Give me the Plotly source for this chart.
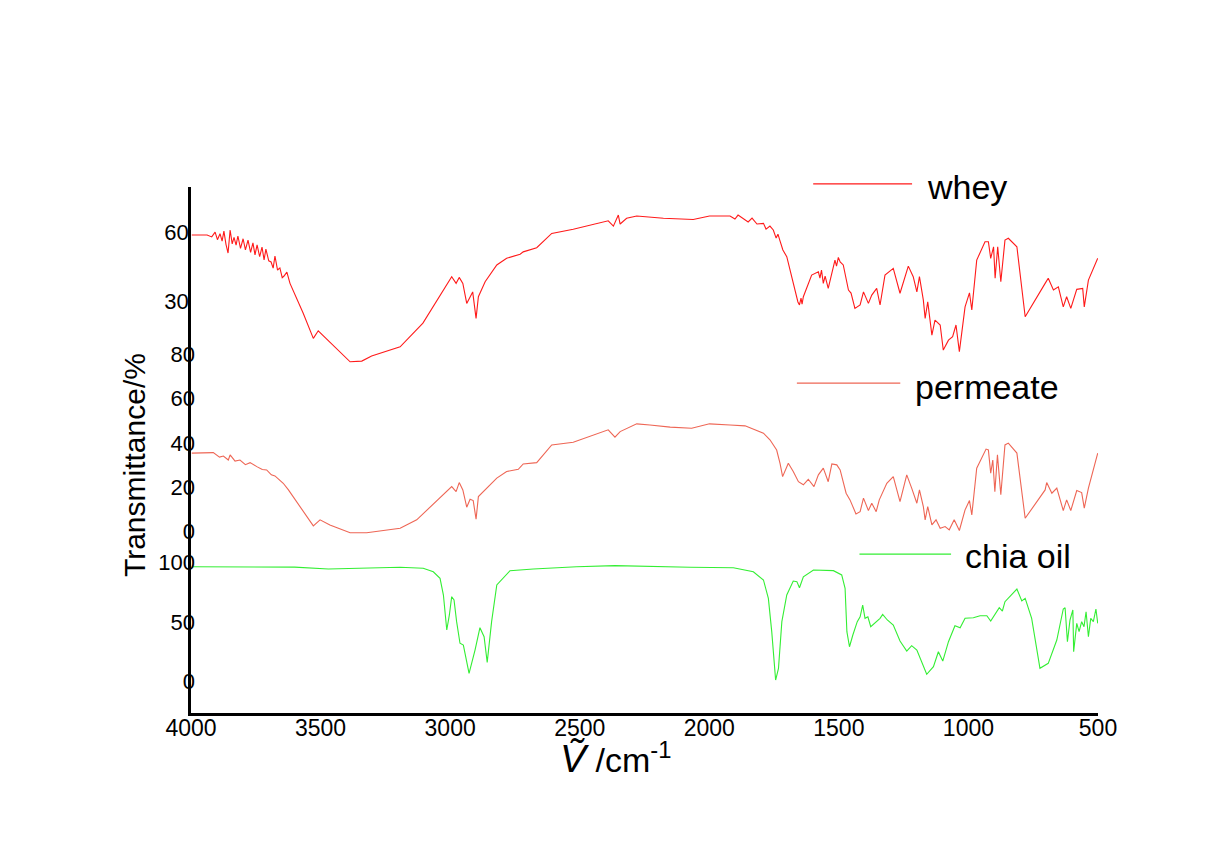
import plotly.graph_objects as go

# ---------------- data ----------------
whey_wn = [3997, 3938, 3920, 3907, 3898, 3888, 3880, 3873, 3865, 3857, 3849, 3841, 3834, 3826, 3819,
           3809, 3799, 3790, 3780, 3770, 3761, 3753, 3745, 3735, 3726, 3718, 3711, 3700,
           3691, 3683, 3676, 3666, 3657, 3648, 3641, 3630, 3618, 3567, 3528, 3509, 3386, 3341, 3303, 3193, 3105, 2994,
           2977, 2965, 2951, 2936, 2913, 2900, 2891, 2865, 2820, 2782, 2730, 2718, 2666, 2608, 2525,
           2390, 2370, 2351, 2344, 2319, 2280, 2177, 2062, 1999, 1920, 1901, 1889, 1869, 1850, 1835,
           1816, 1791, 1781, 1766, 1753, 1742, 1735, 1728, 1716, 1701, 1676, 1662, 1658, 1652, 1646,
           1642, 1637, 1605, 1579, 1573, 1567, 1560, 1553, 1541, 1521, 1515, 1509, 1502, 1495, 1483,
           1463, 1453, 1438, 1418, 1405, 1386, 1373, 1354, 1341, 1322, 1290, 1264, 1232, 1213, 1199,
           1189, 1174, 1167, 1157, 1141, 1129, 1109, 1097, 1077, 1061, 1048, 1035, 1013, 996, 987,
           968, 936, 923, 914, 903, 897, 887, 875, 859, 846, 813, 781, 704, 692, 672, 653, 634, 621,
           605, 582, 559, 553, 537, 501]
whey_t = [59.0, 59.0, 58.2, 60.3, 57.0, 59.6, 56.4, 60.7, 55.0, 51.2, 61.2, 55.2, 58.0, 54.6, 58.6,
          53.2, 57.4, 52.6, 56.8, 51.5, 55.6, 50.4, 54.7, 49.6, 53.8, 48.2, 52.9, 47.8,
          47.3, 44.6, 49.9, 43.8, 44.7, 40.5, 41.2, 42.9, 38.0, 25.0, 14.1, 17.4, 3.9, 4.2, 6.4, 10.4, 20.7, 40.9,
          38.0, 40.6, 38.0, 29.3, 34.3, 22.8, 32.2, 38.7, 46.0, 48.9, 50.7, 51.7, 53.5, 59.7, 61.5,
          65.2, 62.9, 67.7, 63.8, 66.3, 67.3, 66.3, 65.8, 67.3, 67.3, 66.0, 67.7, 66.3, 64.7, 66.4,
          63.8, 64.1, 61.6, 62.9, 61.2, 57.7, 59.4, 56.8, 52.5, 49.6, 38.0, 31.6, 29.9, 28.6, 31.6,
          29.0, 32.2, 41.6, 43.0, 40.3, 43.8, 38.0, 41.2, 35.8, 45.2, 48.1, 45.5, 49.3, 47.3, 46.0,
          35.1, 33.8, 27.1, 28.6, 34.3, 29.3, 32.9, 35.8, 28.6, 41.6, 44.5, 33.7, 45.5, 40.9, 34.3,
          40.9, 30.7, 22.8, 30.0, 15.5, 22.0, 19.9, 9.0, 13.3, 14.8, 19.9, 8.3, 27.8, 33.9, 26.4,
          48.1, 56.1, 56.1, 48.9, 53.9, 40.2, 53.9, 38.7, 56.8, 57.6, 53.9, 23.5, 38.0, 40.2, 35.1,
          36.5, 27.8, 32.2, 27.1, 35.4, 35.8, 27.8, 39.4, 48.9]

perm_wn = [3997, 3914, 3890, 3875, 3856, 3849, 3830, 3811, 3790, 3772, 3746, 3725, 3708, 3690, 3676, 3644, 3624, 3528, 3502, 3464,
           3386, 3322, 3193, 3129, 2994, 2977, 2965, 2951, 2936, 2923, 2911, 2900, 2891, 2859, 2820,
           2782, 2737, 2718, 2666, 2608, 2525, 2390, 2364, 2344, 2280, 2229, 2151, 2068, 1999, 1920,
           1862, 1791, 1766, 1740, 1727, 1717, 1695, 1676, 1656, 1637, 1618, 1596, 1579, 1560, 1541,
           1527, 1508, 1495, 1472, 1457, 1434, 1418, 1405, 1386, 1373, 1356, 1344, 1315, 1290, 1264,
           1238, 1219, 1199, 1189, 1174, 1167, 1157, 1141, 1125, 1109, 1090, 1074, 1055, 1035, 1013,
           996, 987, 968, 932, 923, 914, 906, 898, 888, 875, 859, 846, 813, 781, 704, 698, 678, 659,
           634, 621, 605, 582, 563, 553, 537, 501]
perm_t = [35.4, 35.6, 33.6, 34.1, 32.3, 34.6, 31.8, 32.3, 30.2, 31.1, 29.3, 28.0, 27.8, 25.6, 25.1, 21.8, 18.8, 2.6, 5.3, 3.0,
          -0.5, -0.5, 1.5, 5.3, 20.3, 18.0, 22.1, 18.8, 11.0, 14.6, 14.0, 5.6, 15.8, 19.6, 24.1,
          27.1, 28.1, 30.5, 31.1, 39.1, 40.3, 45.9, 42.6, 45.1, 48.6, 48.1, 47.1, 46.6, 48.6, 48.1,
          47.7, 44.4, 41.4, 36.8, 30.8, 24.8, 30.8, 27.1, 22.5, 21.1, 23.6, 20.3, 25.6, 28.6, 22.5,
          30.5, 30.1, 27.8, 17.3, 14.3, 8.0, 9.0, 15.1, 9.5, 12.8, 9.0, 14.3, 21.8, 24.8, 13.5,
          25.6, 19.6, 12.8, 18.8, 11.3, 5.3, 11.3, 3.0, 5.3, 1.5, 2.3, 0.8, 5.3, 0.5, 9.8,
          14.0, 7.5, 28.6, 37.2, 36.8, 26.3, 32.3, 18.0, 34.6, 16.6, 39.1, 39.9, 35.4, 6.0, 18.8, 22.1, 17.3, 19.6,
          9.5, 14.3, 9.5, 18.5, 17.6, 10.6, 19.6, 35.4]

chia_wn = [3997, 3600, 3470, 3193, 3104, 3065, 3039, 3026, 3013, 3003, 2994, 2985, 2975, 2962, 2949,
           2927, 2904, 2885, 2869, 2857, 2840, 2820, 2769, 2679, 2512, 2364, 2074, 1907, 1830, 1791,
           1772, 1759, 1744, 1733, 1720, 1701, 1676, 1662, 1652, 1637, 1598, 1573, 1521, 1489, 1476,
           1469, 1459, 1446, 1429, 1418, 1408, 1399, 1388, 1377, 1341, 1331, 1313, 1290, 1264, 1238,
           1219, 1199, 1161, 1135, 1116, 1099, 1077, 1052, 1032, 1013, 981, 955, 929, 914, 881, 869,
           859, 813, 794, 781, 756, 724, 692, 659, 634, 627, 618, 608, 597, 594, 582, 573, 563, 554,
           546, 537, 528, 518, 508, 501]
chia_t = [96.3, 96.0, 94.4, 95.8, 95.0, 92.1, 86.6, 72.6, 43.3, 55.9, 71.2, 68.4, 50.3, 32.2, 30.7,
          7.0, 26.5, 45.2, 37.7, 16.2, 50.3, 81.0, 93.0, 94.4, 96.3, 97.2, 95.8, 95.5, 92.1, 85.2,
          69.8, 41.9, 1.4, 11.2, 50.3, 72.6, 84.3, 83.8, 78.7, 87.9, 93.6, 93.6, 93.0, 89.4, 78.2,
          41.9, 29.3, 39.1, 50.3, 54.4, 64.2, 53.1, 54.4, 46.1, 53.1, 56.4, 51.7, 47.5, 34.1, 25.7,
          30.2, 26.5, 6.2, 12.6, 25.1, 17.3, 33.5, 46.9, 45.2, 53.1, 53.6, 55.3, 55.3, 50.8, 62.0, 59.2,
          67.0, 77.6, 67.6, 69.8, 53.1, 11.2, 15.4, 34.9, 60.9, 62.0, 33.5, 51.7, 60.1, 25.1, 48.9, 41.9, 50.3, 46.1,
          58.6, 37.7, 53.1, 50.3, 60.9, 48.9]

x_ticks = [4000, 3500, 3000, 2500, 2000, 1500, 1000, 500]
whey_ticks = [30, 60]
perm_ticks = [0, 20, 40, 60, 80]
chia_ticks = [0, 50, 100]
names = ["whey", "permeate", "chia oil"]
colors = ["#ff1a1a", "#ee6655", "#33ee33"]

FONT = "Arial, Liberation Sans, Helvetica, sans-serif"

fig = go.Figure()
fig.add_trace(go.Scatter(x=whey_wn, y=whey_t, mode="lines", name=names[0], yaxis="y",
                         line=dict(color=colors[0], width=1.1)))
fig.add_trace(go.Scatter(x=perm_wn, y=perm_t, mode="lines", name=names[1], yaxis="y2",
                         line=dict(color=colors[1], width=1.1)))
fig.add_trace(go.Scatter(x=chia_wn, y=chia_t, mode="lines", name=names[2], yaxis="y3",
                         line=dict(color=colors[2], width=1.1)))

ycommon = dict(showgrid=False, zeroline=False, ticks="", ticklabelstandoff=-5,
               tickfont=dict(size=22, color="black", family=FONT))

fig.update_layout(
    width=1200, height=842, autosize=False,
    paper_bgcolor="white", plot_bgcolor="white",
    margin=dict(l=183, r=110, t=179, b=137),
    showlegend=False,
    font=dict(family=FONT, color="black"),
    xaxis=dict(range=[4000, 500], tickvals=x_ticks, ticks="", showgrid=False, zeroline=False,
               showline=True, linecolor="black", linewidth=2.5, ticklabelstandoff=-7,
               tickfont=dict(size=23, color="black", family=FONT)),
    yaxis=dict(range=[-148.8, 79.9], tickvals=whey_ticks, showline=True, linecolor="black",
               linewidth=2.5, **ycommon),
    yaxis2=dict(range=[-81.8, 155.4], tickvals=perm_ticks, overlaying="y", side="left",
                showline=False, **ycommon),
    yaxis3=dict(range=[-26.2, 414.3], tickvals=chia_ticks, overlaying="y", side="left",
                showline=False, **ycommon),
)

# legend-like labels placed next to each curve, as in the original
leg = [
    (0.686, 0.795, 1.006, 0.809, 1.000),
    (0.668, 0.782, 0.627, 0.796, 0.620),
    (0.737, 0.838, 0.302, 0.851, 0.298),
]
for (x0, x1, yl, xt, yt), nm, c in zip(leg, names, colors):
    fig.add_shape(type="line", xref="paper", yref="paper", x0=x0, x1=x1, y0=yl, y1=yl,
                  line=dict(color=c, width=1.2))
    fig.add_annotation(x=xt, y=yt, xref="paper", yref="paper", text=nm, showarrow=False,
                       xanchor="left", yanchor="middle", font=dict(size=34, color="black", family=FONT))

fig.add_annotation(x=-0.0617, y=0.4715, xref="paper", yref="paper", text="Transmittance/%",
                   textangle=-90, showarrow=False, xanchor="center", yanchor="middle",
                   font=dict(size=30, color="black", family=FONT))

fig.add_annotation(x=0.468, y=-0.086, xref="paper", yref="paper",
                   text="<span style='font-size:39px'><i>\u1E7C</i></span> /cm<sup>-1</sup>",
                   showarrow=False, xanchor="center", yanchor="middle",
                   font=dict(size=34, color="black", family=FONT))

fig.write_html("out.html")
